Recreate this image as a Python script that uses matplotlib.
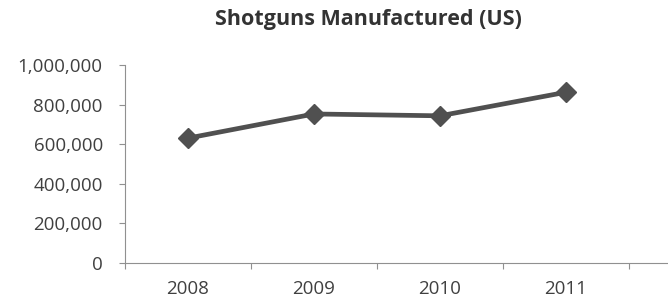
import matplotlib.pyplot as plt
from matplotlib.ticker import FuncFormatter

# Data.

years = ["2008", "2009", "2010", "2011"]
shotguns = [630710, 752699, 743378, 862401]

# Plot.

plt.rcParams['font.family'] = ['Open Sans', 'DejaVu Sans']

fig = plt.figure(figsize=(6.68, 3.03), dpi=100)
axes = fig.add_axes([125. / 668., 40. / 303., 543. / 668., 198. / 303.])

x = list(range(len(years)))
axes.plot(x, shotguns, color='#505050', linewidth=3.4, marker='D',
          markersize=10, markerfacecolor='#505050', markeredgecolor='#505050',
          clip_on=False, zorder=3)

# Axis ranges and ticks.

axes.set_ylim(0., 1000000.)
axes.set_xlim(-0.5, -0.5 + 543. / 126.)
axes.set_yticks([0, 200000, 400000, 600000, 800000, 1000000])
axes.yaxis.set_major_formatter(FuncFormatter(lambda v, p: "{0:,.0f}".format(v)))

axes.set_xticks([i - 0.5 for i in range(len(years) + 1)])
axes.set_xticklabels([])
axes.set_xticks(x, minor=True)
axes.set_xticklabels(years, minor=True)
axes.tick_params(axis='x', which='minor', length=0, pad=12,
                 labelsize=13.5, labelcolor='#404040')
axes.tick_params(axis='x', which='major', length=4, width=0.8,
                 color='#909090', direction='out')
axes.tick_params(axis='y', length=4, width=0.8, color='#909090',
                 labelsize=13.5, labelcolor='#404040', pad=12)

for side in ['top', 'right']:
    axes.spines[side].set_visible(False)
for side in ['left', 'bottom']:
    axes.spines[side].set_color('#909090')
    axes.spines[side].set_linewidth(0.8)

fig.text(368. / 668., 1. - 20. / 303., "Shotguns Manufactured (US)",
         ha='center', va='center', fontsize=15.5, fontweight='bold',
         color='#333333')

plt.savefig(r"out.png", dpi=100)
plt.close()
